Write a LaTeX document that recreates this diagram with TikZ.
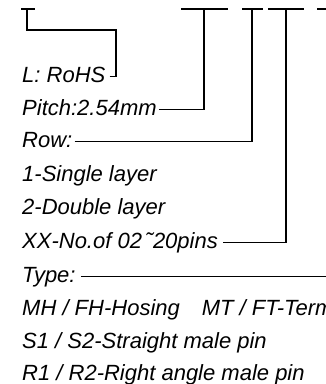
\documentclass[tikz,border=0pt]{standalone}
\usepackage{fontspec}
\setmainfont{Liberation Sans}
\usepackage{tikz}
\usetikzlibrary{positioning,calc}

\begin{document}
\begin{tikzpicture}[x=1pt, y=-1pt,
    lbl/.style={anchor=base west, inner sep=0pt, font=\itshape\fontsize{22}{22}\selectfont},
    lead/.style={line width=1.4pt},
    bar/.style={line width=1.4pt}
]
\useasboundingbox (0,0) rectangle (326,384);
\clip (0,0) rectangle (326,384);

% top bars of the part number
\coordinate (t1) at (27,9);
\coordinate (t2) at (204,9);
\coordinate (t3) at (252,9);
\coordinate (t4) at (286,9);
\coordinate (t5) at (336,9);
\coordinate (k1) at (116,30);
\draw[bar] ([xshift=-6pt]t1) -- ([xshift=8pt]t1);
\draw[bar] ([xshift=-23pt]t2) -- ([xshift=24pt]t2);
\draw[bar] ([xshift=-10pt]t3) -- ([xshift=11pt]t3);
\draw[bar] ([xshift=-18pt]t4) -- ([xshift=18pt]t4);
\draw[bar] ([xshift=-19pt]t5) -- ([xshift=19pt]t5);

% labels
\node[lbl] (rohs) at (22,82) {L: RoHS};
\node[lbl] (pitch) at (22,115) {Pitch:2.54mm};
\node[lbl] (row) at (22,147) {Row:};
\node[lbl] (single) at (22,181) {1-Single layer};
\node[lbl] (double) at (22,214) {2-Double layer};
\node[lbl] (pins) at (22,248) {XX-No.of 02\,˜20pins};
\node[lbl] (type) at (22,282) {Type:};
\node[lbl] (hosing) at (22,315) {MH / FH-Hosing\hspace{22pt}MT / FT-Terminal};
\node[lbl] (straight) at (22,348) {S1 / S2-Straight male pin};
\node[lbl] (angle) at (22,380) {R1 / R2-Right angle male pin};

% leaders
\draw[lead] ([shift={(4pt,5.5pt)}]rohs.base east) -| (k1) -| (t1);
\draw[lead] ([shift={(2pt,5.5pt)}]pitch.base east) -| (t2);
\draw[lead] ([shift={(2pt,5.5pt)}]row.base east) -| (t3);
\draw[lead] ([shift={(5pt,5.5pt)}]pins.base east) -| (t4);
\draw[lead] ([shift={(5pt,5.5pt)}]type.base east) -| (t5);

\end{tikzpicture}
\end{document}
